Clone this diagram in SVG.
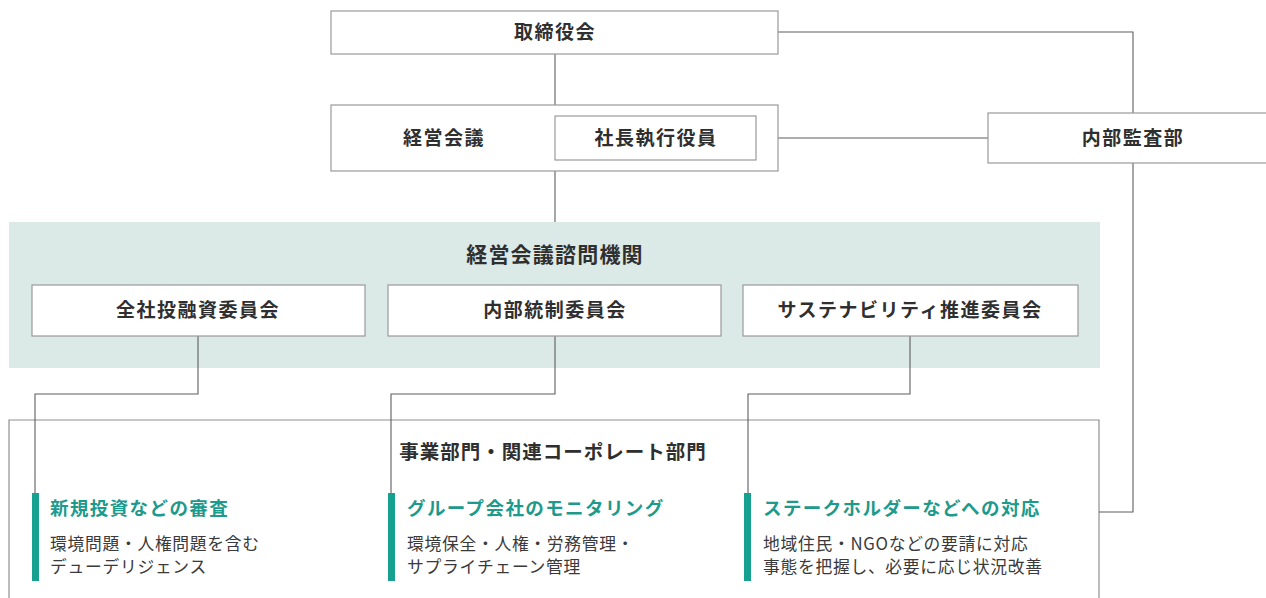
<svg xmlns="http://www.w3.org/2000/svg" width="1266" height="598" viewBox="0 0 1266 598">
<style>
text{font-family:"Noto Sans CJK JP","Noto Sans",sans-serif;fill:#2f2f2f}
.node rect{fill:#fff;stroke:#9a9a9a;stroke-width:1.2}
.lbl{font-size:19px;font-weight:700;letter-spacing:1.5px;text-anchor:middle}
.title{font-size:19.5px;font-weight:700;letter-spacing:1px;text-anchor:middle}
.title2{font-size:21px;font-weight:700;letter-spacing:1.2px;text-anchor:middle}
.head{font-size:18.5px;font-weight:700;letter-spacing:1.4px;fill:#1d9a8b}
.body{font-size:16.8px;font-weight:400;letter-spacing:0.7px;fill:#3a3a3a}
.bar{fill:#16a08f}
#connectors path{fill:none;stroke:#5e5e5e;stroke-width:1.1}
</style>
<rect width="1266" height="598" fill="#fff"/>
<g id="advisory-panel">
<rect x="9" y="222" width="1091" height="146" fill="#dbe9e7"/>
<text class="title2" x="555" y="262">経営会議諮問機関</text>
</g>
<g id="business-divisions">
<path d="M9,598 V420 H1099 V598" fill="#fff" stroke="#8f8f8f" stroke-width="1.2"/>
<text class="title" x="553" y="459">事業部門・関連コーポレート部門</text>
</g>
<g id="connectors">
<path d="M555,54 V105"/>
<path d="M555,171 V222"/>
<path d="M778,32 H1133 V113"/>
<path d="M756,138 H988"/>
<path d="M1133,163 V512 H1099"/>
<path d="M198,336 V394 H35 V493"/>
<path d="M555,336 V394 H391 V493"/>
<path d="M910,336 V394 H748 V493"/>
</g>
<g id="board" class="node">
<rect x="331" y="11" width="447" height="43"/>
<text class="lbl" x="555" y="39">取締役会</text>
</g>
<g id="management-meeting" class="node">
<rect x="331" y="105" width="447" height="66"/>
<text class="lbl" x="444" y="145">経営会議</text>
</g>
<g id="president" class="node">
<rect x="555" y="116" width="201" height="44"/>
<text class="lbl" x="656" y="145">社長執行役員</text>
</g>
<g id="internal-audit" class="node">
<rect x="988" y="113" width="290" height="50"/>
<text class="lbl" x="1133" y="145">内部監査部</text>
</g>
<g id="investment-committee" class="node">
<rect x="32" y="285" width="333" height="51"/>
<text class="lbl" x="198" y="317">全社投融資委員会</text>
</g>
<g id="internal-control-committee" class="node">
<rect x="388" y="285" width="333" height="51"/>
<text class="lbl" x="555" y="317">内部統制委員会</text>
</g>
<g id="sustainability-committee" class="node">
<rect x="743" y="285" width="335" height="51"/>
<text class="lbl" x="910" y="317">サステナビリティ推進委員会</text>
</g>
<g id="item-review">
<rect class="bar" x="32" y="493" width="7" height="88"/>
<text class="head" x="50" y="515">新規投資などの審査</text>
<text class="body" x="50" y="550">環境問題・人権問題を含む</text>
<text class="body" x="50" y="573">デューデリジェンス</text>
</g>
<g id="item-monitoring">
<rect class="bar" x="388" y="493" width="7" height="88"/>
<text class="head" x="407" y="515">グループ会社のモニタリング</text>
<text class="body" x="407" y="550">環境保全・人権・労務管理・</text>
<text class="body" x="407" y="573">サプライチェーン管理</text>
</g>
<g id="item-stakeholder">
<rect class="bar" x="744" y="493" width="7" height="88"/>
<text class="head" x="763" y="515">ステークホルダーなどへの対応</text>
<text class="body" x="763" y="550">地域住民・NGOなどの要請に対応</text>
<text class="body" x="763" y="573">事態を把握し、必要に応じ状況改善</text>
</g>
</svg>
